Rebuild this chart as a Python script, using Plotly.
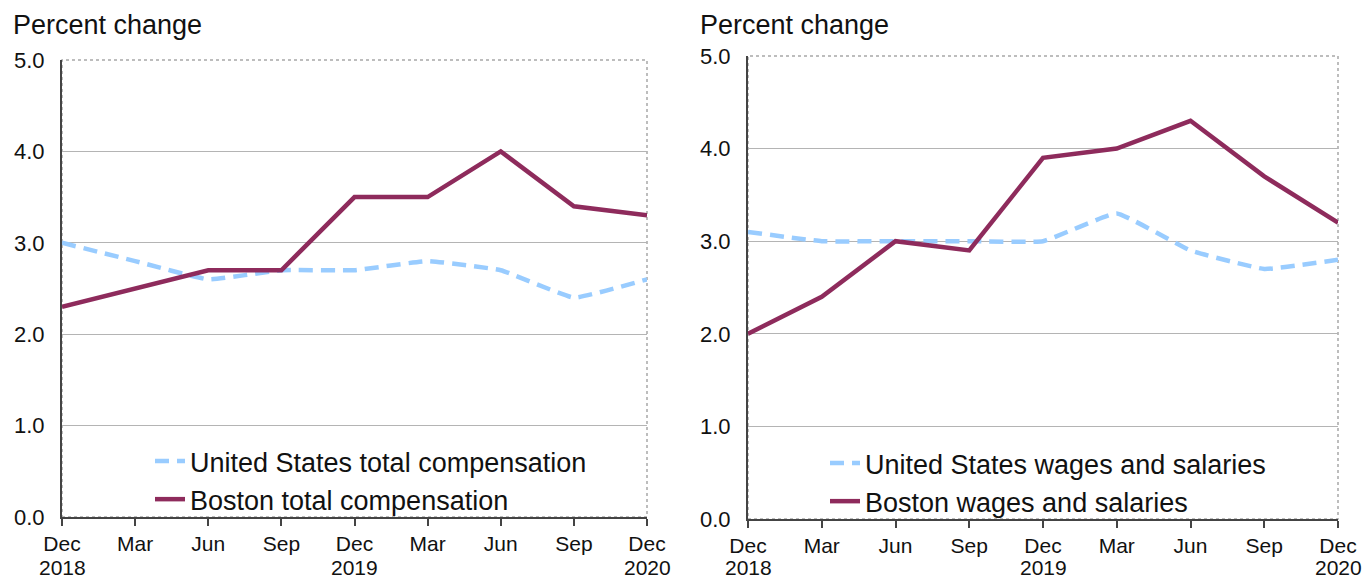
import plotly.graph_objects as go

month_labels = ["Dec", "Mar", "Jun", "Sep", "Dec", "Mar", "Jun", "Sep", "Dec"]
year_labels = ["2018", "2019", "2020"]
year_positions = [0, 4, 8]
periods = list(range(9))

us_total_comp = [3.0, 2.8, 2.6, 2.7, 2.7, 2.8, 2.7, 2.4, 2.6]
boston_total_comp = [2.3, 2.5, 2.7, 2.7, 3.5, 3.5, 4.0, 3.4, 3.3]
us_wages = [3.1, 3.0, 3.0, 3.0, 3.0, 3.3, 2.9, 2.7, 2.8]
boston_wages = [2.0, 2.4, 3.0, 2.9, 3.9, 4.0, 4.3, 3.7, 3.2]

W, H = 1366, 578
MAROON = "#8E2B5C"
BLUE = "#99CCFF"
FONT = "Liberation Sans, Arial, sans-serif"
TXT = "#111111"

fig = go.Figure()

fig.add_trace(go.Scatter(x=periods, y=us_total_comp, name="United States total compensation",
                         mode="lines", line=dict(color=BLUE, width=4.5, dash="14px,8px", shape="spline", smoothing=0.3),
                         xaxis="x", yaxis="y", legend="legend"))
fig.add_trace(go.Scatter(x=periods, y=boston_total_comp, name="Boston total compensation",
                         mode="lines", line=dict(color=MAROON, width=4.5),
                         xaxis="x", yaxis="y", legend="legend"))
fig.add_trace(go.Scatter(x=periods, y=us_wages, name="United States wages and salaries",
                         mode="lines", line=dict(color=BLUE, width=4.5, dash="14px,8px", shape="spline", smoothing=0.3),
                         xaxis="x2", yaxis="y2", legend="legend2"))
fig.add_trace(go.Scatter(x=periods, y=boston_wages, name="Boston wages and salaries",
                         mode="lines", line=dict(color=MAROON, width=4.5),
                         xaxis="x2", yaxis="y2", legend="legend2"))

def px_x(p):
    return p / W

def px_y(p):
    return 1 - p / H

xcommon = dict(range=[0, 8], tickmode="array", tickvals=periods, ticktext=month_labels,
               showgrid=False, zeroline=False, showline=True, linecolor="#444444", linewidth=2,
               ticks="outside", ticklen=7, tickwidth=2, tickcolor="#444444", automargin=False,
               tickfont=dict(size=21, color=TXT, family=FONT), ticklabelstandoff=0)
ycommon = dict(range=[0, 5], tickmode="array", tickvals=[0, 1, 2, 3, 4, 5], tickformat=".1f",
               showgrid=True, gridcolor="#B4B4B4", gridwidth=1, zeroline=False, automargin=False,
               showline=True, linecolor="#444444", linewidth=2, ticks="",
               tickfont=dict(size=22, color=TXT, family=FONT), ticklabelstandoff=11)

annotations = [
    dict(text="Percent change", x=px_x(11), y=px_y(25), xref="paper", yref="paper",
         xanchor="left", yanchor="middle", showarrow=False, font=dict(size=27, family=FONT, color=TXT)),
    dict(text="Percent change", x=px_x(698), y=px_y(25), xref="paper", yref="paper",
         xanchor="left", yanchor="middle", showarrow=False, font=dict(size=27, family=FONT, color=TXT)),
]
for xr in ["x", "x2"]:
    for yl, xp in zip(year_labels, year_positions):
        annotations.append(dict(text=yl, x=xp, xref=xr, y=px_y(567), yref="paper",
                                xanchor="center", yanchor="middle", showarrow=False,
                                font=dict(size=21, family=FONT, color=TXT)))

fig.update_layout(
    width=W, height=H,
    margin=dict(l=0, r=0, t=0, b=0, autoexpand=False),
    paper_bgcolor="white", plot_bgcolor="white",
    font=dict(family=FONT, color=TXT),
    xaxis=dict(domain=[px_x(62), px_x(647)], anchor="y", **xcommon),
    yaxis=dict(domain=[px_y(517), px_y(60)], anchor="x", **ycommon),
    xaxis2=dict(domain=[px_x(748), px_x(1338)], anchor="y2", **xcommon),
    yaxis2=dict(domain=[px_y(519), px_y(56)], anchor="x2", **ycommon),
    legend=dict(x=px_x(150), y=px_y(437), xanchor="left", yanchor="top",
                bgcolor="rgba(0,0,0,0)", font=dict(size=27, family=FONT, color=TXT),
                tracegroupgap=0),
    legend2=dict(x=px_x(825), y=px_y(439), xanchor="left", yanchor="top",
                 bgcolor="rgba(0,0,0,0)", font=dict(size=27, family=FONT, color=TXT),
                 tracegroupgap=0),
    showlegend=True,
    annotations=annotations,
    shapes=[
        dict(type="rect", xref="x domain", yref="y domain", x0=0, x1=1, y0=0, y1=1,
             line=dict(color="#A8A8A8", width=1.5, dash="dot"), layer="below"),
        dict(type="rect", xref="x2 domain", yref="y2 domain", x0=0, x1=1, y0=0, y1=1,
             line=dict(color="#A8A8A8", width=1.5, dash="dot"), layer="below"),
    ],
)

fig.write_html("out.html", config={"displayModeBar": False},
               post_script="document.body.style.margin='0';document.body.style.overflow='hidden';")
